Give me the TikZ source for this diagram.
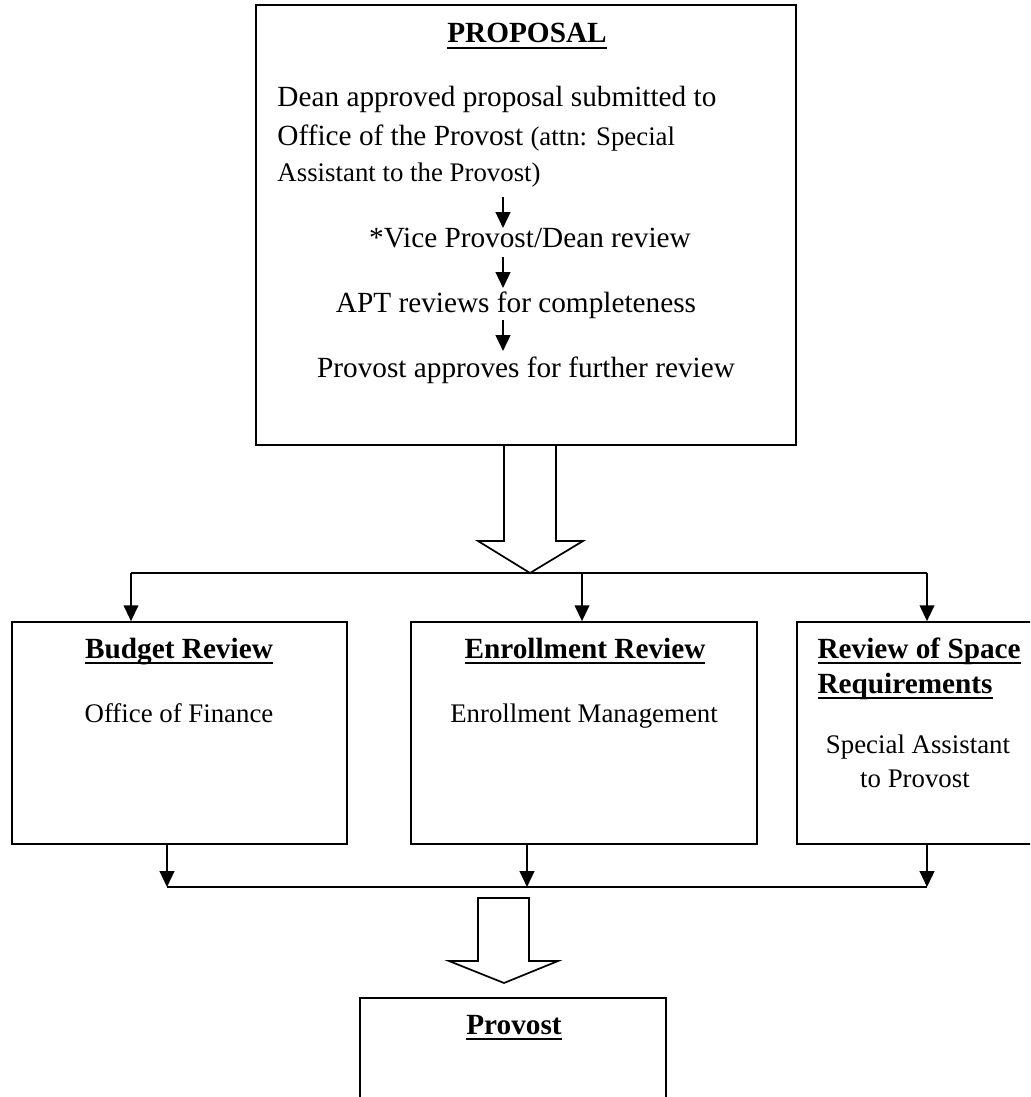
\documentclass[tikz,border=0pt]{standalone}
\usepackage{fontspec}
\setmainfont{Liberation Serif}
\usetikzlibrary{arrows.meta}

\newcommand{\unitpx}{0.41pt}
\newcommand{\titleline}[1]{\setbox0=\hbox{#1}\rlap{\usebox0}\rule[-2.6pt]{\wd0}{1pt}}
\tikzset{
    box/.style={draw, line width=0.7pt, inner sep=0pt},
    arr/.style={-{Triangle[length=6.5pt,width=6pt]}, line width=0.8pt},
    hollow/.style={draw, line width=0.7pt, line join=miter},
    title/.style={font=\fontsize{12}{14}\selectfont\bfseries, anchor=base, inner sep=0pt},
    bigtxt/.style={font=\fontsize{12}{14}\selectfont, anchor=base, inner sep=0pt},
    txt/.style={font=\fontsize{11}{13}\selectfont, anchor=base, inner sep=0pt},
}

\begin{document}
\begin{tikzpicture}[x=\unitpx, y=-\unitpx]
    \useasboundingbox (0,0) rectangle (1030,1097);
    \clip (0,0) rectangle (1030,1097);

    % proposal
    \node [box, minimum width=540*\unitpx, minimum height=440*\unitpx] (proposal) at (526,225) {};
    \node [title] (proptitle) at (527,43) {\titleline{PROPOSAL}};
    \node [bigtxt, anchor=base west] (dean) at (277,107) {Dean approved proposal submitted to};
    \node [bigtxt, anchor=base west] (office) at (277,146) {Office of the Provost {\fontsize{11}{13}\selectfont (attn: Special}};
    \node [txt, anchor=base west] (assist) at (277,182) {Assistant to the Provost)};
    \node [bigtxt] (vice) at (530,248) {*Vice Provost/Dean review};
    \node [bigtxt] (apt) at (516,313) {APT reviews for completeness};
    \node [bigtxt] (approve) at (526,378) {Provost approves for further review};

    \foreach \ya/\yb [count=\i] in {197/228, 257/288, 320/351}{%
        \coordinate (from\i) at (503,\ya);
        \coordinate (to\i) at (503,\yb);
        \draw [arr, line width=0.9pt] (from\i) -- (to\i);}

    \draw [hollow] (504,445) -- (504,541) -- (478,541) -- (530,573) -- (583,541) -- (556,541) -- (556,445);

    % reviews
    \node [box, minimum width=335*\unitpx, minimum height=222*\unitpx] (budget) at (179.5,733) {};
    \node [box, minimum width=346*\unitpx, minimum height=222*\unitpx] (enroll) at (584,733) {};
    \node [box, minimum width=243*\unitpx, minimum height=222*\unitpx] (space) at (918.5,733) {};

    \node [title] (budgettitle) at (179,658) {\titleline{Budget Review}};
    \node [txt] (finance) at (179,722) {Office of Finance};
    \node [title] (enrolltitle) at (585,658) {\titleline{Enrollment Review}};
    \node [txt] (management) at (584,722) {Enrollment Management};
    \node [title, anchor=base west] (spacetitle) at (817,658) {\titleline{Review of Space}};
    \node [title, anchor=base west] (spacetitletwo) at (817,693) {\titleline{Requirements}};
    \node [txt] (assistant) at (918,753) {Special Assistant};
    \node [txt] (toprovost) at (915,787) {to Provost};

    \foreach \x/\b in {131/budget, 582/enroll, 927/space}{%
        \coordinate (in\b) at (\x,573);
        \draw [arr] (in\b) -- (in\b |- \b.north);}
    \draw [line width=0.7pt] (inbudget) -- (inspace);

    \foreach \x/\b in {167/budget, 527/enroll, 927/space}{%
        \coordinate (out\b) at (\x,887);
        \draw [arr] (out\b |- \b.south) -- (out\b);}
    \draw [line width=0.7pt] (outbudget) -- (outspace);

    % provost
    \draw [hollow] (478,898) -- (478,961) -- (449,961) -- (504,983) -- (558,961) -- (529,961) -- (529,898) -- cycle;
    \node [box, minimum width=306*\unitpx, minimum height=162*\unitpx] (provost) at (513,1079) {};
    \node [title] (provosttitle) at (514,1034) {\titleline{Provost}};
\end{tikzpicture}
\end{document}
